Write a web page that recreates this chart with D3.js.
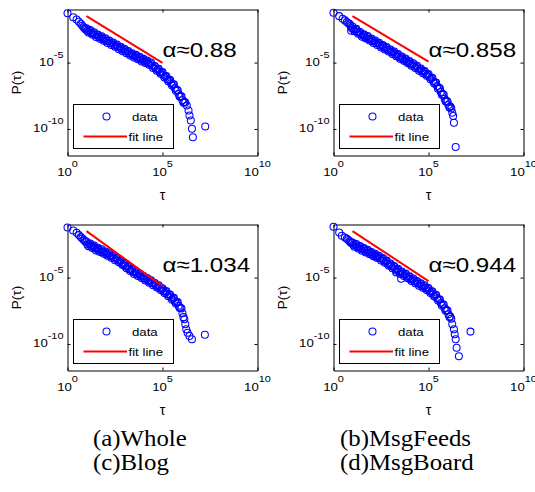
<!DOCTYPE html>
<html>
<head>
<meta charset="utf-8">
<script src="https://cdn.jsdelivr.net/npm/d3@7"></script>
<style>
  body { margin: 0; background: #fff; }
  text { font-family: "Liberation Sans", Arial, sans-serif; fill: #000; }
  .caption { font-family: "Liberation Serif", "Times New Roman", serif; }
</style>
</head>
<body>
<svg id="chart" width="535" height="492"></svg>
<script>
// all values are log10 of tau and of P(tau)

// the dense part of every curve sits on the same tau grid
const gridTau = [1.0, 1.1, 1.2, 1.3, 1.4, 1.5, 1.6, 1.7, 1.8, 1.9,
                 2.0, 2.1, 2.2, 2.3, 2.4, 2.5, 2.6, 2.7, 2.8, 2.9,
                 3.0, 3.1, 3.2, 3.3, 3.4, 3.5, 3.6, 3.7, 3.8, 3.9,
                 4.0, 4.1, 4.2, 4.3, 4.4, 4.5, 4.6, 4.7, 4.8, 4.9,
                 5.0, 5.1, 5.2, 5.3, 5.4, 5.5, 5.6, 5.7, 5.8, 5.9,
                 6.0, 6.1, 6.2];
// second row of points, between the grid points
const midTau = [1.05, 1.15, 1.25, 1.35, 1.45, 1.55, 1.65, 1.75, 1.85, 1.95,
                2.05, 2.15, 2.25, 2.35, 2.45, 2.55, 2.65, 2.75, 2.85, 2.95,
                3.05, 3.15, 3.25, 3.35, 3.45, 3.55, 3.65, 3.75, 3.85, 3.95,
                4.05, 4.15, 4.25, 4.35, 4.45, 4.55, 4.65, 4.75, 4.85, 4.95,
                5.05, 5.15, 5.25, 5.35, 5.45, 5.55, 5.65, 5.75, 5.85, 5.95,
                6.05, 6.15];

// (a) Whole
const wholeTau = [0, 0.3, 0.48, 0.6, 0.7, 0.78, 0.85, 0.9, 0.95, ...gridTau,
                  6.28, 6.37, 6.42, 6.49, 6.55, 6.6, 7.25];
const wholeP = [-1.28, -1.58, -1.76, -1.93, -2.08, -2.22, -2.33, -2.42, -2.5,
  -2.41, -2.74, -2.55, -2.89, -2.71, -3.07, -2.88, -3.21, -3.01, -3.35,
  -3.17, -3.52, -3.34, -3.67, -3.48, -3.81, -3.64, -4.0, -3.81, -4.14,
  -3.95, -4.29, -4.12, -4.47, -4.29, -4.62, -4.42, -4.75, -4.57, -4.92,
  -4.72, -5.04, -4.84, -5.17, -5.0, -5.4, -5.25, -5.62, -5.47, -5.85,
  -5.72, -6.13, -6.01, -6.41, -6.29, -6.72, -6.64, -7.12, -7.08, -7.58,
  -7.54, -8.02, -8.0,
  -8.23, -8.61, -8.99, -9.36, -9.99, -10.62, -9.82];
const wholeMidP = [-2.61, -2.61, -2.77, -2.77, -2.92, -2.92, -3.08, -3.08, -3.23, -3.23,
  -3.38, -3.38, -3.54, -3.54, -3.7, -3.69, -3.85, -3.85, -4.01, -4.01,
  -4.17, -4.17, -4.33, -4.33, -4.49, -4.49, -4.64, -4.63, -4.78, -4.77,
  -4.92, -4.91, -5.06, -5.05, -5.24, -5.28, -5.47, -5.51, -5.71, -5.75,
  -5.96, -6.02, -6.25, -6.32, -6.56, -6.65, -6.92, -7.05, -7.37, -7.53,
  -7.83, -7.96];

// (b) MsgFeeds
const feedsTau = [0, 0.3, 0.48, 0.6, 0.7, 0.78, 0.85, 0.9, 0.93, 0.95, ...gridTau,
                  6.25, 6.3, 6.34, 6.43];
const feedsP = [-1.25, -1.5, -1.7, -1.82, -1.95, -2.03, -2.1, -2.25, -2.6, -2.4,
  -2.28, -2.63, -2.46, -2.83, -2.69, -3.06, -2.87, -3.19, -3.0, -3.34,
  -3.18, -3.52, -3.33, -3.67, -3.5, -3.87, -3.68, -4.01, -3.82, -4.16,
  -4.01, -4.35, -4.17, -4.52, -4.35, -4.72, -4.54, -4.87, -4.69, -5.04,
  -4.89, -5.23, -5.05, -5.4, -5.24, -5.62, -5.45, -5.8, -5.63, -5.99,
  -5.86, -6.25, -6.14, -6.57, -6.5, -6.98, -6.93, -7.43, -7.41, -7.94,
  -7.93, -8.38, -8.45,
  -8.78, -9.03, -9.54, -11.36];
const feedsMidP = [-2.49, -2.51, -2.7, -2.73, -2.91, -2.91, -3.07, -3.06, -3.22, -3.22,
  -3.39, -3.39, -3.55, -3.55, -3.72, -3.72, -3.88, -3.88, -4.04, -4.05,
  -4.22, -4.23, -4.4, -4.4, -4.57, -4.58, -4.74, -4.75, -4.92, -4.93,
  -5.1, -5.11, -5.28, -5.29, -5.46, -5.48, -5.66, -5.68, -5.86, -5.89,
  -6.09, -6.16, -6.41, -6.5, -6.77, -6.9, -7.22, -7.39, -7.73, -7.9,
  -8.19, -8.31];

// (c) Blog
const blogTau = [0, 0.3, 0.48, 0.6, 0.7, 0.78, 0.85, 0.9, 0.95, ...gridTau,
                 6.25, 6.32, 6.42, 6.55, 7.23];
const blogP = [-1.22, -1.45, -1.62, -1.8, -1.95, -2.05, -2.15, -2.22, -2.3,
  -2.31, -2.63, -2.44, -2.77, -2.59, -2.95, -2.75, -3.07, -2.87, -3.2,
  -3.04, -3.36, -3.17, -3.5, -3.33, -3.69, -3.5, -3.85, -3.69, -4.06,
  -3.93, -4.29, -4.13, -4.5, -4.36, -4.73, -4.54, -4.88, -4.69, -5.04,
  -4.88, -5.22, -5.03, -5.38, -5.21, -5.58, -5.4, -5.75, -5.58, -5.94,
  -5.81, -6.17, -6.02, -6.4, -6.27, -6.67, -6.53, -6.95, -6.85, -7.29,
  -7.33, -7.98, -8.51,
  -8.89, -9.15, -9.4, -9.65, -9.3];
const blogMidP = [-2.51, -2.5, -2.66, -2.65, -2.8, -2.8, -2.95, -2.94, -3.09, -3.08,
  -3.24, -3.23, -3.39, -3.38, -3.54, -3.54, -3.71, -3.74, -3.93, -3.96,
  -4.15, -4.18, -4.37, -4.4, -4.58, -4.58, -4.75, -4.75, -4.92, -4.92,
  -5.09, -5.09, -5.26, -5.26, -5.43, -5.44, -5.61, -5.63, -5.81, -5.84,
  -6.03, -6.06, -6.26, -6.3, -6.5, -6.55, -6.78, -6.87, -7.12, -7.27,
  -7.69, -8.14];

// (d) MsgBoard
const boardTau = [0, 0.3, 0.44, 0.6, 0.7, 0.78, 0.85, 0.9, 0.95, ...gridTau,
                  3.3, 3.56, 6.25, 6.34, 6.38, 6.43, 6.48, 6.6, 7.21];
const boardP = [-1.17, -1.6, -1.85, -1.98, -2.08, -2.17, -2.27, -2.35, -2.42,
  -2.35, -2.67, -2.48, -2.81, -2.63, -2.98, -2.78, -3.11, -2.91, -3.24,
  -3.07, -3.4, -3.2, -3.53, -3.35, -3.71, -3.53, -3.88, -3.72, -4.08,
  -3.94, -4.29, -4.12, -4.48, -4.34, -4.72, -4.54, -4.88, -4.7, -5.05,
  -4.91, -5.25, -5.07, -5.42, -5.25, -5.61, -5.43, -5.76, -5.58, -5.93,
  -5.79, -6.17, -6.03, -6.42, -6.3, -6.73, -6.65, -7.1, -7.03, -7.49,
  -7.48, -7.96, -8.1,
  -4.62, -5.08, -8.51, -8.89, -9.27, -9.65, -10.28, -10.92, -9.07];
const boardMidP = [-2.55, -2.54, -2.7, -2.69, -2.84, -2.83, -2.98, -2.98, -3.13, -3.12,
  -3.27, -3.27, -3.42, -3.41, -3.56, -3.57, -3.74, -3.77, -3.95, -3.97,
  -4.15, -4.17, -4.35, -4.38, -4.56, -4.58, -4.75, -4.76, -4.93, -4.94,
  -5.12, -5.13, -5.3, -5.3, -5.46, -5.47, -5.63, -5.64, -5.81, -5.82,
  -6.02, -6.07, -6.28, -6.33, -6.55, -6.64, -6.91, -7.03, -7.31, -7.45,
  -7.76, -7.93];

// fitted power law: drawn from tau = 10^1 to 10^5
const fitTau = [1, 5];
const fitWhole = [-1.5, -5.02];
const fitFeeds = [-1.5, -4.93];
const fitBlog = [-1.5, -5.64];
const fitBoard = [-1.5, -5.26];

const alphaText = ["\u03b1\u22480.88", "\u03b1\u22480.858", "\u03b1\u22481.034", "\u03b1\u22480.944"];
const captions = ["(a)Whole", "(b)MsgFeeds", "(c)Blog", "(d)MsgBoard"];
const xTicks = [0, 5, 10];
const yTicks = [-5, -10];

const W = 190, H = 146;
const SX = 1.15; // the picture was stretched sideways, text too

const panels = [
  {left: 67.5,  top: 9.5,   tau: [...wholeTau, ...midTau], p: [...wholeP, ...wholeMidP], fit: fitWhole, label: alphaText[0]},
  {left: 333.5, top: 9.5,   tau: [...feedsTau, ...midTau], p: [...feedsP, ...feedsMidP], fit: fitFeeds, label: alphaText[1]},
  {left: 67.5,  top: 224.5, tau: [...blogTau,  ...midTau], p: [...blogP,  ...blogMidP],  fit: fitBlog,  label: alphaText[2]},
  {left: 333.5, top: 224.5, tau: [...boardTau, ...midTau], p: [...boardP, ...boardMidP], fit: fitBoard, label: alphaText[3]}
];

const svg = d3.select("#chart");
svg.append("rect").attr("width", 535).attr("height", 492).attr("fill", "#fff");

function stretched(g, x, y, anchor, size, sx) {
  return g.append("text")
    .attr("transform", `translate(${x},${y}) scale(${sx || SX},1)`)
    .attr("text-anchor", anchor)
    .style("font-size", size + "px");
}

function powerLabel(t, exp) {
  t.append("tspan").text("10");
  t.append("tspan").attr("dy", -8.5).style("font-size", "9.5px").text(exp);
}

panels.forEach(pn => {
  const x = d3.scaleLog().domain([1, 1e10]).range([pn.left, pn.left + W]);
  const y = d3.scaleLog().domain([1e-12, 1e-1]).range([pn.top + H, pn.top]);
  const g = svg.append("g");
  const xv = xTicks.map(e => Math.pow(10, e)), yv = yTicks.map(e => Math.pow(10, e));

  // box with inward ticks on all four sides
  g.append("g").attr("transform", `translate(0,${pn.top + H})`)
    .call(d3.axisBottom(x).tickValues(xv).tickSizeInner(-3).tickSizeOuter(0).tickFormat(""));
  g.append("g").attr("transform", `translate(0,${pn.top})`)
    .call(d3.axisTop(x).tickValues(xv).tickSizeInner(-3).tickSizeOuter(0).tickFormat(""));
  g.append("g").attr("transform", `translate(${pn.left},0)`)
    .call(d3.axisLeft(y).tickValues(yv).tickSizeInner(-3).tickSizeOuter(0).tickFormat(""));
  g.append("g").attr("transform", `translate(${pn.left + W},0)`)
    .call(d3.axisRight(y).tickValues(yv).tickSizeInner(-3).tickSizeOuter(0).tickFormat(""));

  xTicks.forEach(e => powerLabel(stretched(g, x(Math.pow(10, e)), pn.top + H + 20, "middle", 11.5), e));
  yTicks.forEach(e => powerLabel(stretched(g, pn.left - 4, y(Math.pow(10, e)) + 3.5, "end", 11.5), e));

  g.append("text")
    .attr("transform", `translate(${pn.left - 47},${pn.top + H / 2}) rotate(-90)`)
    .attr("text-anchor", "middle").style("font-size", "13.5px").text("P(\u03c4)");
  g.append("text")
    .attr("x", pn.left + W / 2).attr("y", pn.top + H + 44)
    .attr("text-anchor", "middle").style("font-size", "14px").text("\u03c4");

  // data points
  g.selectAll("circle.pt")
    .data(pn.tau.map((t, i) => [t, pn.p[i]]))
    .enter().append("circle")
      .attr("class", "pt")
      .attr("cx", d => x(Math.pow(10, d[0])))
      .attr("cy", d => y(Math.pow(10, d[1])))
      .attr("r", 3.5)
      .attr("fill", "none")
      .attr("stroke", "#0000ff")
      .attr("stroke-width", 1.05);

  // fit line
  const line = d3.line().x(d => x(Math.pow(10, d[0]))).y(d => y(Math.pow(10, d[1])));
  g.append("path")
    .attr("d", line(fitTau.map((t, i) => [t, pn.fit[i]])))
    .attr("fill", "none").attr("stroke", "#ff0000").attr("stroke-width", 2);

  stretched(g, x(1e5), y(1e-4) + 7.5, "start", 21).text(pn.label);

  // legend
  const lx = pn.left + 6, ly = pn.top + H - 51;
  g.append("rect").attr("x", lx).attr("y", ly).attr("width", 100).attr("height", 44)
    .attr("fill", "#fff").attr("stroke", "#000").attr("stroke-width", 1);
  g.append("circle").attr("cx", lx + 33).attr("cy", ly + 12).attr("r", 3.5)
    .attr("fill", "none").attr("stroke", "#0000ff").attr("stroke-width", 1.05);
  stretched(g, lx + 58.5, ly + 16, "start", 11.5).text("data");
  g.append("line").attr("x1", lx + 10).attr("x2", lx + 53.5).attr("y1", ly + 32).attr("y2", ly + 32)
    .attr("stroke", "#ff0000").attr("stroke-width", 2);
  stretched(g, lx + 55, ly + 36.5, "start", 11.5).text("fit line");
});

// captions under the figure
const capPos = [[93, 446], [340, 446], [93, 470], [340, 470]];
captions.forEach((c, i) => {
  stretched(svg, capPos[i][0], capPos[i][1], "start", 23, 1.08).attr("class", "caption").text(c);
});
</script>
</body>
</html>
